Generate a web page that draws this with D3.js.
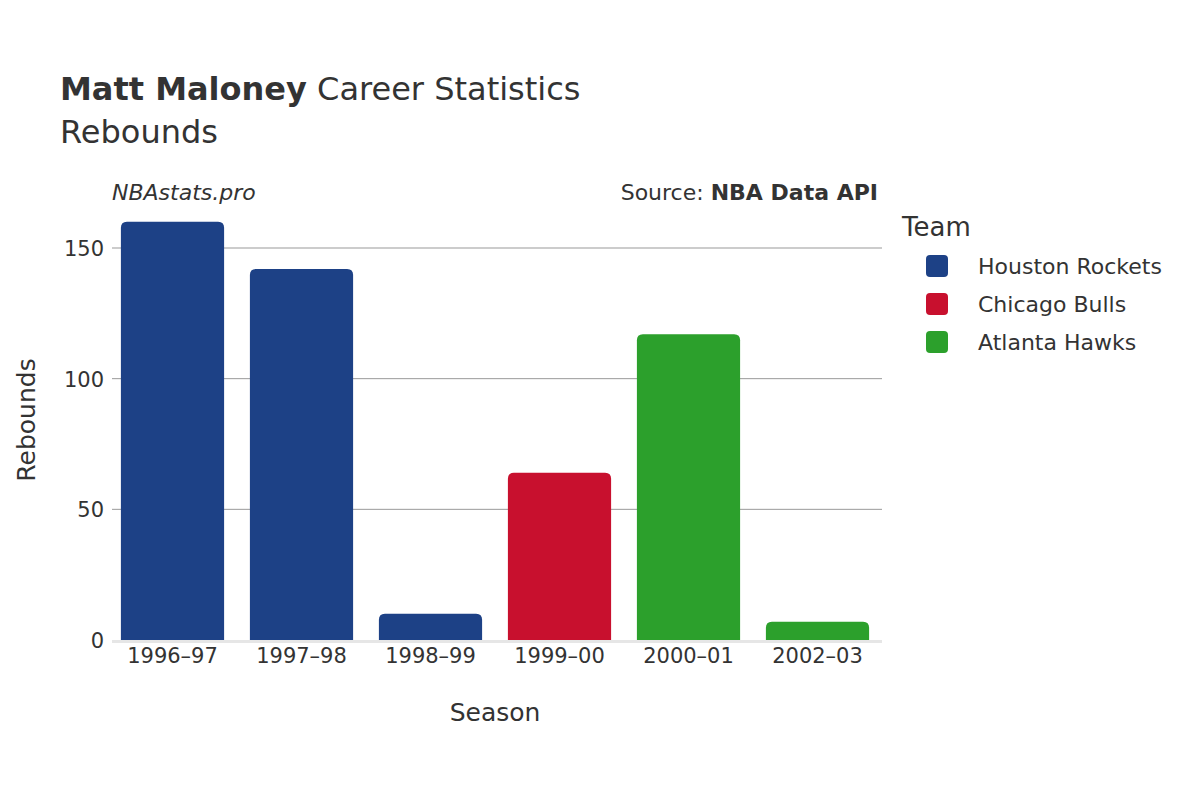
<!DOCTYPE html>
<html>
<head>
<style>
  body { margin: 0; background: #fff; }
  svg { font-family: "DejaVu Sans", "Noto Sans", sans-serif; }
  .axis path, .axis line { display: none; }
  .axis text { font-size: 21px; fill: #333; font-family: "DejaVu Sans", sans-serif; }
</style>
</head>
<body>
<svg id="chart" width="1200" height="800"></svg>
<script src="https://d3js.org/d3.v7.min.js"></script>
<script>
// data
const seasons = ["1996\u201397", "1997\u201398", "1998\u201399", "1999\u201300", "2000\u201301", "2002\u201303"];
const rebounds = [160, 142, 10, 64, 117, 7];
const teamOfSeason = ["Houston Rockets", "Houston Rockets", "Houston Rockets", "Chicago Bulls", "Atlanta Hawks", "Atlanta Hawks"];
const teams = ["Houston Rockets", "Chicago Bulls", "Atlanta Hawks"];
const teamColors = ["#1d4186", "#c8102e", "#2ca02c"];
const yTicks = [0, 50, 100, 150];

const svg = d3.select("#chart");
const x = d3.scaleBand().domain(seasons).range([108, 882]).paddingInner(0.2).paddingOuter(0.1);
const y = d3.scaleLinear().domain([0, 150]).range([640, 248]);
const color = d3.scaleOrdinal().domain(teams).range(teamColors);

// gridlines
svg.append("g").selectAll("line").data(yTicks.filter(d => d > 0)).enter()
  .append("line")
  .attr("x1", 112).attr("x2", 882)
  .attr("y1", d => y(d)).attr("y2", d => y(d))
  .attr("stroke", "#999").attr("stroke-width", 1);

// bars with rounded tops
const r = 6;
svg.append("g").selectAll("path").data(rebounds).enter()
  .append("path")
  .attr("fill", (d, i) => color(teamOfSeason[i]))
  .attr("d", (d, i) => {
    const x0 = x(seasons[i]), w = x.bandwidth(), top = y(d), bot = y(0);
    const rr = Math.min(r, (bot - top));
    return `M${x0},${bot}V${top + rr}Q${x0},${top} ${x0 + rr},${top}H${x0 + w - rr}Q${x0 + w},${top} ${x0 + w},${top + rr}V${bot}Z`;
  });

// baseline
svg.append("line").attr("x1", 112).attr("x2", 882)
  .attr("y1", y(0) + 1.5).attr("y2", y(0) + 1.5)
  .attr("stroke", "#e6e6e6").attr("stroke-width", 3);

svg.append("g").attr("class", "axis")
  .attr("transform", "translate(0,640)")
  .call(d3.axisBottom(x).tickSize(0).tickPadding(8));

svg.append("g").attr("class", "axis")
  .attr("transform", "translate(108,0)")
  .call(d3.axisLeft(y).tickValues(yTicks).tickSize(0).tickPadding(4))
  .selectAll("text").attr("dy", "0.35em");

// titles
const title = svg.append("text").attr("x", 60).attr("y", 100).attr("font-size", 32).attr("fill", "#333");
title.append("tspan").attr("font-weight", "bold").text("Matt Maloney");
title.append("tspan").text(" Career Statistics");
svg.append("text").attr("x", 60).attr("y", 143).attr("font-size", 32).attr("fill", "#333").text("Rebounds");

svg.append("text").attr("x", 112).attr("y", 200).attr("font-size", 22).attr("font-style", "italic").attr("fill", "#333").text("NBAstats.pro");
const src = svg.append("text").attr("x", 878).attr("y", 200).attr("text-anchor", "end").attr("font-size", 22).attr("fill", "#333");
src.append("tspan").text("Source: ");
src.append("tspan").attr("font-weight", "bold").text("NBA Data API");

svg.append("text").attr("x", 495).attr("y", 721).attr("text-anchor", "middle").attr("font-size", 25).attr("fill", "#333").text("Season");
svg.append("text").attr("transform", "translate(26,420) rotate(-90)").attr("text-anchor", "middle").attr("dy", "0.35em").attr("font-size", 25).attr("fill", "#333").text("Rebounds");

// legend
svg.append("text").attr("x", 902).attr("y", 236).attr("font-size", 26).attr("fill", "#333").text("Team");
const lg = svg.append("g").selectAll("g").data(teams).enter().append("g")
  .attr("transform", (d, i) => `translate(926,${266 + i * 38})`);
lg.append("rect").attr("x", 0).attr("y", -11).attr("width", 22).attr("height", 22).attr("rx", 4)
  .attr("fill", d => color(d));
lg.append("text").attr("x", 52).attr("y", 0).attr("dy", "0.35em").attr("font-size", 22).attr("fill", "#333").text(d => d);
</script>
</body>
</html>
